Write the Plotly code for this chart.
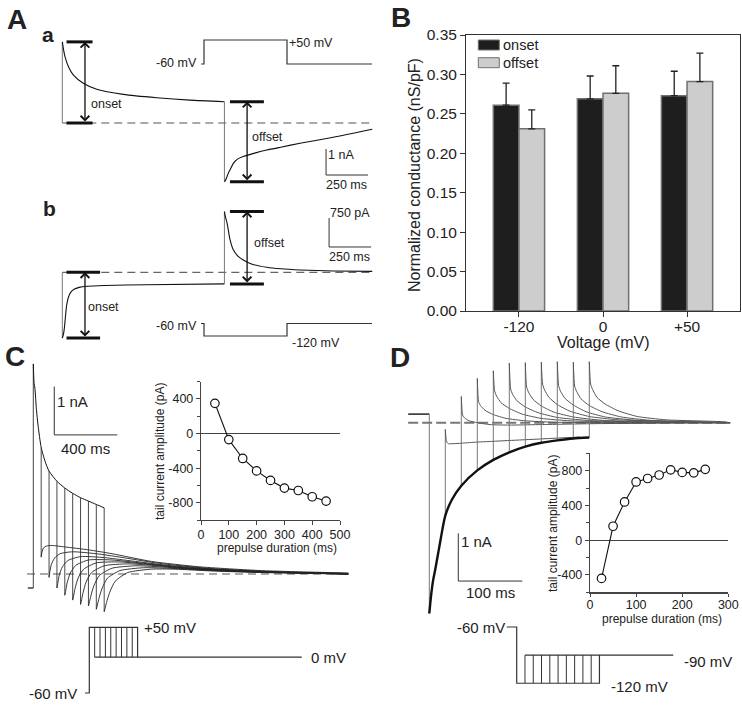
import plotly.graph_objects as go

W, H = 742, 705
FONT = "Liberation Sans, Arial, Helvetica, sans-serif"

# ======================= DATA =======================
# ---- Panel A(a): step -60 -> +50 mV, current (nA) vs time (ms)
aa_on_t = [0, 2, 6, 16, 36, 65, 125, 205, 363, 562, 760, 965]
aa_on_i = [3.12, 3.05, 2.87, 2.55, 2.17, 1.85, 1.53, 1.30, 1.10, 0.97, 0.88, 0.82]
aa_off_t = [965, 970, 978, 990, 1000, 1018, 1045, 1077, 1150, 1217, 1300, 1415, 1613, 1845]
aa_off_i = [-2.26, -2.22, -2.10, -1.90, -1.78, -1.55, -1.38, -1.29, -1.15, -1.04, -0.93, -0.78, -0.55, -0.24]
aa_prot_t = [-36, 0, 0, 1000, 1000, 2024]
aa_prot_v = [-60, -60, 50, 50, -60, -60]

# ---- Panel A(b): step -60 -> -120 mV
ab_on_t = [0, 6, 12, 18, 26, 36, 50, 70, 100, 150, 250, 500, 965]
ab_on_i = [-1.70, -1.62, -1.45, -1.18, -0.85, -0.65, -0.52, -0.44, -0.39, -0.36, -0.34, -0.32, -0.30]
ab_off_t = [965, 970, 978, 984, 998, 1018, 1045, 1077, 1130, 1217, 1300, 1415, 1613, 1845]
ab_off_i = [1.57, 1.45, 1.32, 1.20, 0.85, 0.58, 0.42, 0.32, 0.21, 0.13, 0.09, 0.06, 0.035, 0.025]
ab_prot_t = [-36, 0, 0, 1000, 1000, 2024]
ab_prot_v = [-60, -60, -120, -120, -60, -60]

# ---- Panel B: normalized conductance
volt_labels = ["-120", "0", "+50"]
onset_mean = [0.261, 0.269, 0.273]
onset_err = [0.028, 0.029, 0.031]
offset_mean = [0.231, 0.276, 0.291]
offset_err = [0.024, 0.035, 0.036]

# ---- Panel C: +50 mV prepulse of varying duration, then 0 mV
c_hold_t = [-35, 0]
c_hold_i = [-0.29, -0.29]
c_env_t = [0, 2, 5, 10, 20, 30, 50, 75, 100, 150, 200, 250, 300, 350, 400, 450]
c_env_i = [4.35, 4.15, 3.95, 3.85, 3.40, 3.08, 2.62, 2.33, 2.13, 1.92, 1.78, 1.67, 1.58, 1.51, 1.44, 1.37]
c_prepulse = [50, 100, 150, 200, 250, 300, 350, 400, 450]
c_tail_dt = [0, 5, 15, 35, 70, 150, 300, 450, 700, 1000, 1400]
c_end_t = 2000
c_tails = [
    [0.35, 0.45, 0.54, 0.58, 0.59, 0.56, 0.50, 0.42, 0.26, 0.15, 0.07, 0.02],
    [-0.07, 0.05, 0.20, 0.33, 0.42, 0.46, 0.42, 0.35, 0.22, 0.12, 0.05, 0.01],
    [-0.29, -0.20, -0.02, 0.15, 0.28, 0.36, 0.34, 0.28, 0.18, 0.10, 0.04, 0.01],
    [-0.44, -0.36, -0.18, 0.02, 0.18, 0.29, 0.29, 0.24, 0.15, 0.08, 0.03, 0.01],
    [-0.54, -0.47, -0.30, -0.08, 0.10, 0.23, 0.25, 0.21, 0.13, 0.07, 0.03, 0.0],
    [-0.63, -0.56, -0.40, -0.17, 0.03, 0.17, 0.21, 0.18, 0.11, 0.06, 0.02, 0.0],
    [-0.66, -0.60, -0.46, -0.24, -0.03, 0.12, 0.17, 0.15, 0.09, 0.05, 0.02, 0.0],
    [-0.73, -0.67, -0.53, -0.31, -0.09, 0.07, 0.13, 0.12, 0.08, 0.04, 0.01, 0.0],
    [-0.78, -0.72, -0.59, -0.38, -0.15, 0.03, 0.10, 0.10, 0.06, 0.03, 0.01, 0.0],
]
c_amp = [350, -70, -288, -432, -542, -631, -659, -731, -781]
c_prot_start, c_prot_end = -40, 1980
c_prot_hold, c_prot_pre, c_prot_test = -60, 50, 0

# ---- Panel D: -120 mV prepulse of varying duration, then -90 mV
d_hold_t = [-33, 0]
d_hold_i = [0.18, 0.18]
d_env_t = [0, 3, 6, 9, 13, 17, 21, 25, 35, 50, 75, 100, 125, 150, 175, 200, 225, 250]
d_env_i = [-4.0, -3.6, -3.3, -3.1, -2.8, -2.5, -2.2, -1.95, -1.62, -1.32, -1.0, -0.78,
           -0.62, -0.50, -0.42, -0.37, -0.33, -0.31]
d_prepulse = [25, 50, 75, 100, 125, 150, 175, 200, 225, 250]
d_tail_dt = [0, 2, 5, 12, 25, 45, 75, 120, 210]
d_end_t = 470
d_tails = [
    [-0.14, -0.40, -0.44, -0.44, -0.43, -0.41, -0.39, -0.36, -0.30, None],
    [0.55, 0.16, 0.10, 0.04, 0.0, -0.04, -0.05, -0.04, -0.02, 0.0],
    [0.93, 0.44, 0.36, 0.26, 0.17, 0.09, 0.04, 0.01, 0.0, 0.0],
    [1.09, 0.67, 0.56, 0.42, 0.30, 0.18, 0.09, 0.04, 0.01, 0.0],
    [1.25, 0.71, 0.60, 0.46, 0.33, 0.21, 0.11, 0.05, 0.01, 0.0],
    [1.26, 0.75, 0.64, 0.49, 0.35, 0.22, 0.12, 0.05, 0.015, 0.0],
    [1.27, 0.81, 0.69, 0.53, 0.38, 0.24, 0.13, 0.06, 0.02, 0.0],
    [1.28, 0.78, 0.66, 0.51, 0.37, 0.23, 0.12, 0.055, 0.015, 0.0],
    [1.27, 0.77, 0.66, 0.50, 0.36, 0.23, 0.12, 0.05, 0.015, 0.0],
    [1.28, 0.81, 0.70, 0.53, 0.39, 0.25, 0.13, 0.06, 0.02, 0.0],
]
d_amp = [-440, 160, 440, 670, 710, 750, 810, 780, 775, 815]
d_prot_start, d_prot_end = -30, 473
d_prot_hold, d_prot_pre, d_prot_test = -60, -120, -90

# scale bars (time ms, current nA)
aa_scale = (250, 1.0)
ab_scale = (250, 0.75)
c_scale = (400, 1.0)
d_scale = (100, 1.0)

# inset ticks
c_in_xticks = [0, 100, 200, 300, 400, 500]
c_in_yticks = [-800, -400, 0, 400]
c_in_yminor = [-1000, -600, -200, 200, 600]
d_in_xticks = [0, 100, 200, 300]
d_in_yticks = [-400, 0, 400, 800]
d_in_yminor = [-600, -200, 200, 600, 1000]

# ======================= FIGURE =======================
fig = go.Figure()
layout = dict(width=W, height=H, autosize=False,
              margin=dict(l=0, r=0, t=0, b=0, pad=0, autoexpand=False),
              paper_bgcolor="white", plot_bgcolor="rgba(0,0,0,0)", showlegend=False,
              font=dict(family=FONT, color="#222"),
              barmode="group", bargap=0.39, bargroupgap=0.0)
annotations = []
shapes = []


def ax_id(n):
    return ("x", "y") if n == 1 else (f"x{n}", f"y{n}")


def add_line(n, xs, ys, color="#111", width=1.0, shape="linear", dash=None, smoothing=None):
    line = dict(color=color, width=width, shape=shape)
    if dash:
        line["dash"] = dash
    if smoothing is not None:
        line["smoothing"] = smoothing
    xa, ya = ax_id(n)
    fig.add_trace(go.Scatter(x=xs, y=ys, mode="lines", line=line, xaxis=xa, yaxis=ya,
                             hoverinfo="skip", showlegend=False, connectgaps=False))


def trace_axes(n, box, px0, sx, py0, sy):
    l, r, t, b = box
    layout[f"xaxis{n}"] = dict(domain=[l / W, r / W], range=[(l - px0) / sx, (r - px0) / sx],
                               visible=False, anchor=f"y{n}", fixedrange=True)
    layout[f"yaxis{n}"] = dict(domain=[1 - b / H, 1 - t / H], range=[(py0 - b) / sy, (py0 - t) / sy],
                               visible=False, anchor=f"x{n}", fixedrange=True)


def label(x, y, text, size=12.5, anchor="left", bold=False, angle=0, color="#222"):
    annotations.append(dict(x=x / W, y=1 - y / H, xref="paper", yref="paper",
                            text=f"<b>{text}</b>" if bold else text, showarrow=False,
                            xanchor=anchor, yanchor="middle", textangle=angle, borderpad=0,
                            font=dict(size=size, color=color, family=FONT)))


def dbl_arrow(n, t, i0, i1):
    xa, ya = ax_id(n)
    annotations.append(dict(x=t, y=i1, ax=t, ay=i0, xref=xa, yref=ya, axref=xa, ayref=ya,
                            text="", showarrow=True, arrowhead=4, startarrowhead=4,
                            arrowside="end+start", arrowwidth=1.3, arrowsize=1.3,
                            startarrowsize=1.3, arrowcolor="#111", standoff=0, startstandoff=0))


def bracket(n, t0, t1, levels):
    xs, ys = [], []
    for lv in levels:
        xs += [t0, t1, None]
        ys += [lv, lv, None]
    add_line(n, xs, ys, color="#111", width=3)


def scale_bar(n, t, i, dt, di):
    add_line(n, [t, t, t + dt], [i + di, i, i], color="#333", width=1)


def env_at(ts, vs, t):
    return vs[ts.index(t)]


# ---------------- Panel A(a) ----------------
trace_axes(2, (30, 380, 25, 195), 62.3, 0.168, 123, 26)
add_line(2, [0, aa_off_t[-1]], [0, 0], color="#555", width=1.2, dash="8px,5px")
add_line(2, [0, 0], [0, aa_on_i[0]], color="#777", width=1)
add_line(2, aa_on_t, aa_on_i, color="#111", width=1.1, shape="spline", smoothing=0.6)
add_line(2, [aa_off_t[0]] * 2, [aa_on_i[-1], aa_off_i[0]], color="#777", width=1)
add_line(2, aa_off_t, aa_off_i, color="#111", width=1.1, shape="spline", smoothing=0.6)
bracket(2, 25, 180, [0, aa_on_i[0]])
dbl_arrow(2, 135, 0, aa_on_i[0])
bracket(2, 998, 1200, [aa_on_i[-1], aa_off_i[0]])
dbl_arrow(2, 1100, aa_off_i[0], aa_on_i[-1])
scale_bar(2, 1570, -2.0, *aa_scale)

trace_axes(3, (190, 380, 25, 80), 204, 0.083, 50.9, 0.2182)
add_line(3, aa_prot_t, aa_prot_v, color="#333", width=1.2)

# ---------------- Panel A(b) ----------------
trace_axes(4, (30, 380, 195, 345), 62.3, 0.168, 272.3, 38.7)
add_line(4, [0, ab_off_t[-1]], [0, 0], color="#666", width=1.2, dash="8px,5px")
add_line(4, [0, 0], [0, ab_on_i[0]], color="#777", width=1)
add_line(4, ab_on_t, ab_on_i, color="#111", width=1.1, shape="spline", smoothing=0.6)
add_line(4, [ab_off_t[0]] * 2, [ab_on_i[-1], ab_off_i[0]], color="#777", width=1)
add_line(4, ab_off_t, ab_off_i, color="#111", width=1.1, shape="spline", smoothing=0.6)
bracket(4, 25, 225, [0, ab_on_i[0]])
dbl_arrow(4, 135, ab_on_i[0], 0)
bracket(4, 998, 1200, [ab_on_i[-1], ab_off_i[0]])
dbl_arrow(4, 1100, ab_on_i[-1], ab_off_i[0])
scale_bar(4, 1588, 0.654, *ab_scale)

trace_axes(5, (190, 380, 295, 345), 204, 0.083, 311, 0.2083)
add_line(5, ab_prot_t, ab_prot_v, color="#333", width=1.2)

# ---------------- Panel B (bars) ----------------
fig.add_trace(go.Bar(x=volt_labels, y=onset_mean, name="onset",
                     marker=dict(color="#1e1e1e", line=dict(color="#707070", width=1.5)),
                     error_y=dict(type="data", symmetric=False, array=onset_err,
                                  arrayminus=[0] * len(onset_err), color="#222",
                                  thickness=1.3, width=3.5),
                     hoverinfo="skip"))
fig.add_trace(go.Bar(x=volt_labels, y=offset_mean, name="offset",
                     marker=dict(color="#cdcdcd", line=dict(color="#707070", width=1.5)),
                     error_y=dict(type="data", symmetric=False, array=offset_err,
                                  arrayminus=[0] * len(offset_err), color="#222",
                                  thickness=1.3, width=3.5),
                     hoverinfo="skip"))
layout["xaxis"] = dict(domain=[466 / W, 740 / W], type="category", range=[-0.63, 2.63],
                       showline=True, linecolor="#333", linewidth=1, mirror=True,
                       ticks="outside", ticklen=5, tickcolor="#333", ticklabelstandoff=-4,
                       tickfont=dict(size=15.5, family=FONT, color="#222"),
                       showgrid=False, zeroline=False, anchor="y", fixedrange=True)
layout["yaxis"] = dict(domain=[1 - 311 / H, 1 - 35 / H], range=[0, 0.35], dtick=0.05,
                       tickformat=".2f", showline=True, linecolor="#333", linewidth=1, mirror=True,
                       ticks="outside", ticklen=5, tickcolor="#333",
                       tickfont=dict(size=15.5, family=FONT, color="#222"),
                       showgrid=False, zeroline=False, anchor="x", fixedrange=True)
shapes.append(dict(type="rect", xref="paper", yref="paper", x0=478.3 / W, x1=499.3 / W,
                   y0=1 - 50 / H, y1=1 - 40 / H, fillcolor="#1e1e1e", line=dict(color="#707070", width=1)))
shapes.append(dict(type="rect", xref="paper", yref="paper", x0=478.3 / W, x1=499.3 / W,
                   y0=1 - 67.7 / H, y1=1 - 57.7 / H, fillcolor="#cdcdcd", line=dict(color="#707070", width=1)))

# ---------------- Panel C ----------------
trace_axes(6, (0, 362, 355, 640), 33.3, 0.1575, 574, 48.3)
add_line(6, [c_prot_start, c_end_t], [0, 0], color="#555", width=1.2, dash="8px,5px")
add_line(6, c_hold_t, c_hold_i, color="#111", width=1.2)
add_line(6, [0, 0], [c_hold_i[-1], c_env_i[0]], color="#444", width=1)
add_line(6, c_env_t, c_env_i, color="#111", width=1.0, shape="spline", smoothing=0.6)
for t0, vals in zip(c_prepulse, c_tails):
    e = env_at(c_env_t, c_env_i, t0)
    add_line(6, [t0, t0], [e, vals[0]], color="#333", width=0.9)
    ts = [t0 + d for d in c_tail_dt] + [c_end_t]
    add_line(6, ts, vals, color="#222", width=0.9, shape="spline", smoothing=0.6)
scale_bar(6, 133, 2.88, *c_scale)

trace_axes(7, (60, 362, 610, 705), 89.3, 0.1073, 657.2, 0.597)
add_line(7, [c_prot_start, 0, 0, c_prepulse[-1], c_prepulse[-1]],
         [c_prot_hold, c_prot_hold, c_prot_pre, c_prot_pre, c_prot_test], color="#333", width=1.2)
vx, vy = [], []
for t0 in c_prepulse[:-1]:
    vx += [t0, t0, None]
    vy += [c_prot_pre, c_prot_test, None]
add_line(7, vx, vy, color="#333", width=1)
add_line(7, [c_prepulse[0], c_prot_end], [c_prot_test, c_prot_test], color="#333", width=1.2)

# C inset
fig.add_trace(go.Scatter(x=c_prepulse, y=c_amp, mode="lines+markers", xaxis="x8", yaxis="y8",
                         line=dict(color="#111", width=1.1),
                         marker=dict(symbol="circle", size=8.5, color="white",
                                     line=dict(color="#111", width=1.2)),
                         hoverinfo="skip", showlegend=False))
inset_common = dict(showline=True, linecolor="#444", linewidth=1.2, ticks="outside",
                    tickcolor="#444", tickfont=dict(size=12.5, family=FONT, color="#222"),
                    showgrid=False, fixedrange=True)
layout["xaxis8"] = dict(domain=[201 / W, 340 / W], range=[0, 500], anchor="y8", zeroline=False,
                        tickmode="array", tickvals=c_in_xticks, ticktext=[str(v) for v in c_in_xticks],
                        ticklen=4, ticklabelstandoff=-1, **inset_common)
layout["yaxis8"] = dict(domain=[1 - 520 / H, 1 - 381.7 / H], range=[-1000, 600], anchor="x8",
                        zeroline=True, zerolinecolor="#444", zerolinewidth=1.2, ticklen=4,
                        tickmode="array", tickvals=c_in_yticks, ticktext=[str(v) for v in c_in_yticks],
                        minor=dict(tickvals=c_in_yminor, ticks="outside", ticklen=3, tickcolor="#444"),
                        **inset_common)

# ---------------- Panel D ----------------
trace_axes(9, (395, 742, 355, 640), 429.3, 0.64, 422.7, 47.7)
add_line(9, [d_hold_t[0], d_end_t], [0, 0], color="#777", width=2, dash="10px,4px")
add_line(9, d_hold_t, d_hold_i, color="#222", width=1.5)
add_line(9, [0, 0], [d_hold_i[-1], d_env_i[0]], color="#777", width=1)
for t0, vals in zip(d_prepulse, d_tails):
    e = env_at(d_env_t, d_env_i, t0)
    add_line(9, [t0, t0], [e, vals[0]], color="#777", width=1)
    ts = [t0 + d for d in d_tail_dt] + [d_end_t]
    add_line(9, ts, vals, color="#555", width=1, shape="spline", smoothing=0.5)
add_line(9, d_env_t, d_env_i, color="#111", width=2.4, shape="spline", smoothing=0.6)
scale_bar(9, 45.3, -3.32, *d_scale)

trace_axes(10, (480, 742, 610, 705), 516.7, 0.331, 570.7, 0.938)
add_line(10, [d_prot_start, 0, 0, d_prepulse[-1], d_prepulse[-1]],
         [d_prot_hold, d_prot_hold, d_prot_pre, d_prot_pre, d_prot_test], color="#333", width=1.2)
vx, vy = [], []
for t0 in d_prepulse[:-1]:
    vx += [t0, t0, None]
    vy += [d_prot_pre, d_prot_test, None]
add_line(10, vx, vy, color="#333", width=1)
add_line(10, [d_prepulse[0], d_prot_end], [d_prot_test, d_prot_test], color="#333", width=1.2)

# D inset
fig.add_trace(go.Scatter(x=d_prepulse, y=d_amp, mode="lines+markers", xaxis="x11", yaxis="y11",
                         line=dict(color="#111", width=1.1),
                         marker=dict(symbol="circle", size=8.5, color="white",
                                     line=dict(color="#111", width=1.2)),
                         hoverinfo="skip", showlegend=False))
layout["xaxis11"] = dict(domain=[590 / W, 728.3 / W], range=[0, 300], anchor="y11", zeroline=False,
                         tickmode="array", tickvals=d_in_xticks, ticktext=[str(v) for v in d_in_xticks],
                         ticklen=3, ticklabelstandoff=-3, **inset_common)
layout["yaxis11"] = dict(domain=[1 - 592.3 / H, 1 - 453.3 / H], range=[-600, 1000], anchor="x11",
                         zeroline=True, zerolinecolor="#444", zerolinewidth=1.2, ticklen=4,
                         tickmode="array", tickvals=d_in_yticks, ticktext=[str(v) for v in d_in_yticks],
                         minor=dict(tickvals=d_in_yminor, ticks="outside", ticklen=3, tickcolor="#444"),
                         **inset_common)

# ======================= TEXT =======================
# panel letters
label(17, 19, "A", 28, "center", bold=True)
label(48, 35, "a", 21, "center", bold=True)
label(49, 208, "b", 21, "center", bold=True)
label(401, 17, "B", 28, "center", bold=True)
label(15, 357, "C", 28, "center", bold=True)
label(400, 358, "D", 28, "center", bold=True)

# A(a)
label(198, 63, "-60 mV", 12.5, "right")
label(288, 43, "+50 mV", 12.5, "left")
label(90, 104, "onset", 12.5, "left")
label(251, 137, "offset", 12.5, "left")
label(327, 155, "1 nA", 12.5, "left")
label(346, 185, "250 ms", 12.5, "center")
# A(b)
label(329, 213, "750 pA", 12.5, "left")
label(349, 257, "250 ms", 12.5, "center")
label(253, 243, "offset", 12.5, "left")
label(87, 307, "onset", 12.5, "left")
label(198, 326, "-60 mV", 12.5, "right")
label(291, 343, "-120 mV", 12.5, "left")

# B
label(502, 45, "onset", 14.5, "left")
label(502, 63, "offset", 14.5, "left")
label(414, 175, "Normalized conductance (nS/pF)", 16, "center", angle=-90)
label(603, 342, "Voltage (mV)", 16, "center")

# C
label(56, 401, "1 nA", 15, "left")
label(85, 448, "400 ms", 15, "center")
label(143, 627, "+50 mV", 15, "left")
label(310, 657, "0 mV", 15, "left")
label(78, 693, "-60 mV", 15, "right")
label(160, 452, "tail current amplitude (pA)", 12, "center", angle=-90)
label(277, 548, "prepulse duration (ms)", 12, "center")

# D
label(460, 541, "1 nA", 15, "left")
label(490, 592, "100 ms", 15, "center")
label(506, 627, "-60 mV", 15, "right")
label(683, 661, "-90 mV", 15, "left")
label(610, 686, "-120 mV", 15, "left")
label(553, 524, "tail current amplitude (pA)", 12, "center", angle=-90)
label(662, 619, "prepulse duration (ms)", 12, "center")

layout["annotations"] = annotations
layout["shapes"] = shapes
fig.update_layout(**layout)
fig.write_html("out.html", config={"displayModeBar": False, "staticPlot": True},
               post_script="document.body.style.margin='0px';document.body.style.padding='0px';")
